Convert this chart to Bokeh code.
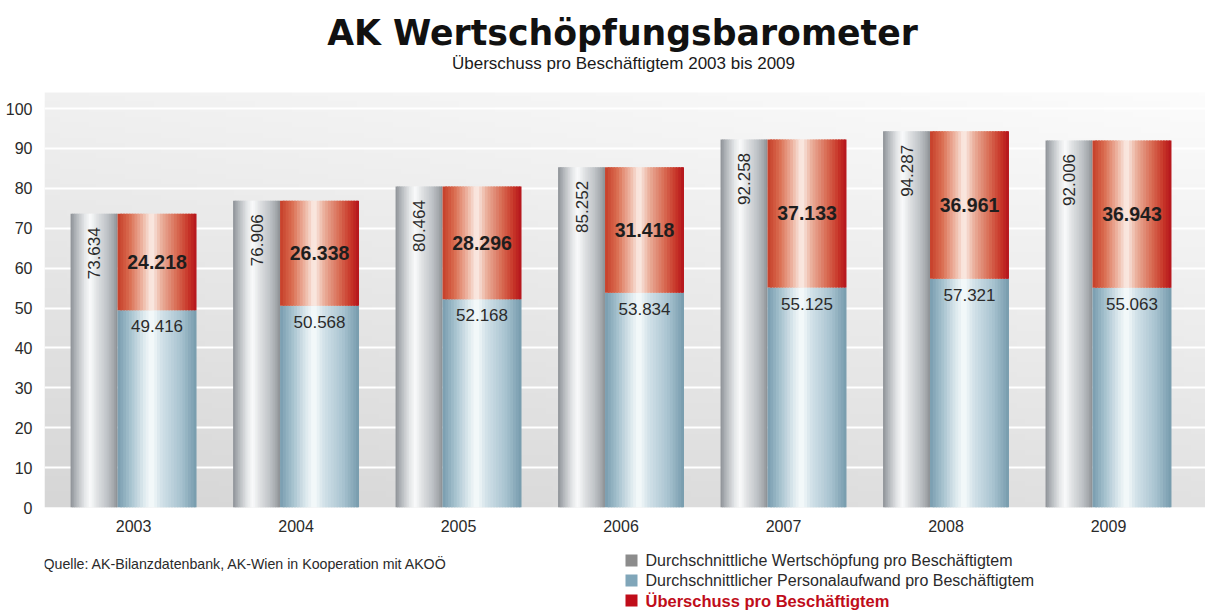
import numpy as np
from bokeh.plotting import figure
from bokeh.layouts import column
from bokeh.models import Range1d, FixedTicker
from bokeh.core.properties import value
from bokeh.embed import file_html
from bokeh.resources import INLINE

# ---------------- data ----------------
years = ["2003", "2004", "2005", "2006", "2007", "2008", "2009"]
wertschoepfung = [73.634, 76.906, 80.464, 85.252, 92.258, 94.287, 92.006]
personalaufwand = [49.416, 50.568, 52.168, 53.834, 55.125, 57.321, 55.063]
ueberschuss = [24.218, 26.338, 28.296, 31.418, 37.133, 36.961, 36.943]
y_ticks = [0, 10, 20, 30, 40, 50, 60, 70, 80, 90, 100]

title_text = "AK Wertschöpfungsbarometer"
subtitle_text = "Überschuss pro Beschäftigtem 2003 bis 2009"
source_text = "Quelle: AK-Bilanzdatenbank, AK-Wien in Kooperation mit AKOÖ"
legend_labels = ["Durchschnittliche Wertschöpfung pro Beschäftigtem",
                 "Durchschnittlicher Personalaufwand pro Beschäftigtem",
                 "Überschuss pro Beschäftigtem"]

FONT = value("Liberation Sans")
W = 1205

# ---------------- helpers ----------------
def hex2rgb(h):
    return [int(h[i:i + 2], 16) for i in (1, 3, 5)]


def grad_colors(stops, n):
    pos = [s[0] for s in stops]
    cols = np.array([hex2rgb(s[1]) for s in stops], dtype=float)
    out = []
    for k in range(n):
        t = (k + 0.5) / n
        r, g, b = (int(round(np.interp(t, pos, cols[:, j]))) for j in range(3))
        out.append("#%02x%02x%02x" % (r, g, b))
    return out


def strips(centers, offset, width, bottoms, tops, colors):
    n = len(colors)
    dw = width / n
    L, R, B, T, C = [], [], [], [], []
    for c, b, t in zip(centers, bottoms, tops):
        x0 = c + offset - width / 2
        for k, col in enumerate(colors):
            L.append(x0 + k * dw)
            R.append(x0 + (k + 1) * dw + (dw * 0.6 if k < n - 1 else 0))
            B.append(b)
            T.append(t)
            C.append(col)
    return dict(left=L, right=R, bottom=B, top=T, color=C)


grey_stops = [(0, "#8d9196"), (0.12, "#b3b7bb"), (0.3, "#e4e6e8"), (0.42, "#fafbfb"),
              (0.56, "#e0e2e4"), (0.78, "#bfc3c7"), (0.92, "#a3a7ab"), (1.0, "#8a8e92")]
blue_stops = [(0, "#789cae"), (0.15, "#a2bfcc"), (0.33, "#dde9ee"), (0.43, "#f7fbfc"),
              (0.56, "#d1e1e8"), (0.8, "#a8c3d0"), (1.0, "#769aac")]
red_stops = [(0, "#c53d28"), (0.15, "#da6c50"), (0.33, "#efbcaa"), (0.43, "#fbeee8"),
             (0.56, "#eaae9a"), (0.76, "#d76850"), (0.9, "#c73528"), (1.0, "#b3131c")]

N = 28
x_pos = list(range(len(years)))
x_start, x_end = -0.548, 6.597
PX_PER_UNIT = 3.99          # vertical scale of the value axis
FRAME_BOTTOM = 507          # page y of the value 0
plot_top = 104.0            # top of the grey plot area (value units)
y_max = FRAME_BOTTOM / PX_PER_UNIT   # frame reaches up to the page top (header lives here)
grey_off, grey_w = -0.243, 0.289
stack_off, stack_w = 0.1446, 0.486


def page_y(py):
    """page pixel row -> value units of the main chart (for header text placement)"""
    return (FRAME_BOTTOM - py) / PX_PER_UNIT


def page_x(px):
    return x_start + (px - 44) * (x_end - x_start) / (W - 44)


# ---------------- main chart (includes header area) ----------------
p = figure(width=W, height=540, x_range=Range1d(x_start, x_end), y_range=Range1d(0, y_max),
           toolbar_location=None, output_backend="svg", title=None,
           min_border_left=44, min_border_right=0, min_border_top=0, min_border_bottom=33)
p.outline_line_color = None
p.background_fill_color = "white"
p.border_fill_color = "white"

# background gradient of the plot area (lighter top-right, darker bottom-left)
H, Wi = 80, 160
yy, xx = np.mgrid[0:H, 0:Wi]
tt = 0.7 * yy / (H - 1) + 0.3 * xx / (Wi - 1)
gval = (214 + 38 * tt).astype(np.uint8)
img = np.empty((H, Wi), dtype=np.uint32)
view = img.view(dtype=np.uint8).reshape((H, Wi, 4))
view[..., 0] = gval
view[..., 1] = gval
view[..., 2] = gval
view[..., 3] = 255
p.image_rgba(image=[img], x=x_start, y=0, dw=x_end - x_start, dh=plot_top, level="image")

zeros = [0] * len(years)
stack_top = [a + b for a, b in zip(personalaufwand, ueberschuss)]
for src in (strips(x_pos, grey_off, grey_w, zeros, wertschoepfung, grad_colors(grey_stops, N)),
            strips(x_pos, stack_off, stack_w, zeros, personalaufwand, grad_colors(blue_stops, N)),
            strips(x_pos, stack_off, stack_w, personalaufwand, stack_top, grad_colors(red_stops, N))):
    p.quad(left="left", right="right", bottom="bottom", top="top", fill_color="color",
           line_color=None, source=src)

# value labels
p.text(x=[c + grey_off for c in x_pos], y=[v - 3.4 for v in wertschoepfung],
       text=["%.3f" % v for v in wertschoepfung], angle=np.pi / 2,
       text_align="right", text_baseline="middle", text_font=FONT, text_font_size="17px",
       text_color="#2b2b2b")
p.text(x=[c + stack_off for c in x_pos], y=[v - 4.0 for v in personalaufwand],
       text=["%.3f" % v for v in personalaufwand],
       text_align="center", text_baseline="middle", text_font=FONT, text_font_size="17px",
       text_color="#2b2b2b")
p.text(x=[c + stack_off for c in x_pos], y=[a + b / 2 for a, b in zip(personalaufwand, ueberschuss)],
       text=["%.3f" % v for v in ueberschuss],
       text_align="center", text_baseline="middle", text_font=FONT, text_font_size="19.5px",
       text_font_style="bold", text_color="#1e1e1e")

# header texts
p.text(x=[page_x(622)], y=[page_y(32.5)], text=[title_text], text_align="center",
       text_baseline="middle", text_font=value("DejaVu Sans"), text_font_style="bold",
       text_font_size="34.7px", text_color="#111111")
p.text(x=[page_x(623)], y=[page_y(63)], text=[subtitle_text], text_align="center",
       text_baseline="middle", text_font=FONT, text_font_size="17px", text_color="#1a1a1a")

# axes
p.xaxis.ticker = FixedTicker(ticks=x_pos)
p.xaxis.major_label_overrides = {i: y for i, y in enumerate(years)}
p.yaxis.ticker = FixedTicker(ticks=y_ticks)
for ax in (p.xaxis[0], p.yaxis[0]):
    ax.axis_line_color = None
    ax.major_tick_line_color = None
    ax.minor_tick_line_color = None
    ax.major_label_text_font = "Liberation Sans"
    ax.major_label_text_font_size = "16px"
    ax.major_label_text_color = "#2a2a2a"
p.xaxis.major_label_standoff = 6
p.yaxis.major_label_standoff = 6
p.xgrid.grid_line_color = None
p.ygrid.ticker = FixedTicker(ticks=y_ticks)
p.ygrid.grid_line_color = "white"
p.ygrid.grid_line_width = 2

# ---------------- footer ----------------
foot = figure(width=W, height=70, x_range=Range1d(44, W), y_range=Range1d(610, 540),
              toolbar_location=None, output_backend="svg", title=None,
              x_axis_location=None, y_axis_location=None,
              min_border_left=44, min_border_right=0, min_border_top=0, min_border_bottom=0)
foot.grid.visible = False
foot.outline_line_color = None
foot.text(x=[43], y=[563], text=[source_text], text_align="left", text_baseline="middle",
          text_font=FONT, text_font_size="14.2px", text_color="#2a2a2a")
leg_y = [560, 580, 600]
leg_colors = ["#8c8c8c", "#80a6b9", "#c00d1a"]
foot.scatter(x=[631] * 3, y=leg_y, marker="square", size=12, fill_color=leg_colors, line_color=None)
foot.text(x=[645] * 2, y=leg_y[:2], text=legend_labels[:2], text_align="left", text_baseline="middle",
          text_font=FONT, text_font_size="16px", text_color="#2a2a2a")
foot.text(x=[645], y=[leg_y[2]], text=[legend_labels[2]], text_align="left", text_baseline="middle",
          text_font=FONT, text_font_size="16.5px", text_font_style="bold", text_color="#c00d1a")

layout = column(p, foot, spacing=0)
open("out.html", "w").write(file_html(layout, INLINE))
